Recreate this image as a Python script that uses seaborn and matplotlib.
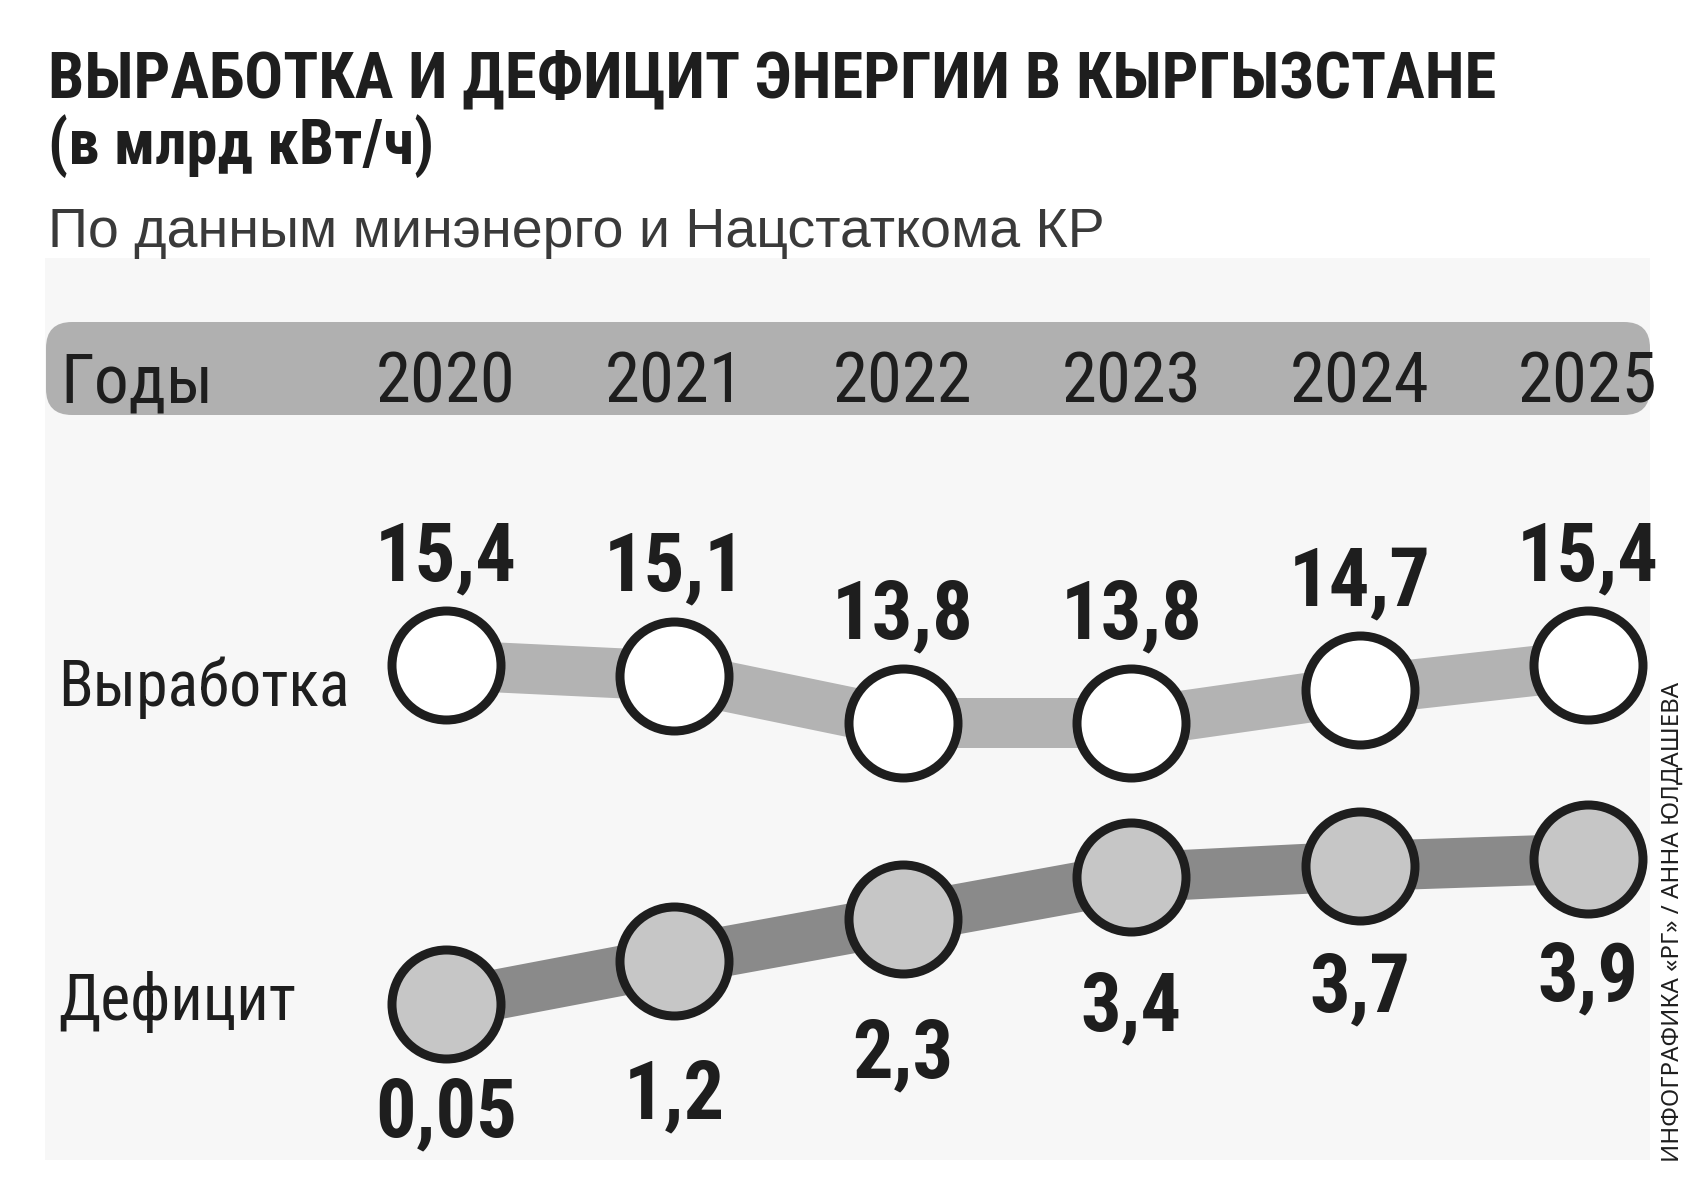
"""Energy production and deficit in Kyrgyzstan, 2020-2025."""

import matplotlib

matplotlib.use("Agg")
import matplotlib.pyplot as plt
from matplotlib import font_manager
from matplotlib.patches import FancyBboxPatch, Rectangle
from matplotlib.transforms import blended_transform_factory
import seaborn as sns

YEARS = ["2020", "2021", "2022", "2023", "2024", "2025"]
PRODUCTION = [15.4, 15.1, 13.8, 13.8, 14.7, 15.4]
DEFICIT = [0.05, 1.2, 2.3, 3.4, 3.7, 3.9]

TITLE = "ВЫРАБОТКА И ДЕФИЦИТ ЭНЕРГИИ В КЫРГЫЗСТАНЕ"
UNITS = "(в млрд кВт/ч)"
SOURCE = "По данным минэнерго и Нацстаткома КР"
CREDIT = "ИНФОГРАФИКА «РГ» / АННА ЮЛДАШЕВА"

W, H, DPI = 1686, 1183, 100
INK = "#1e1e1e"
PX = 72 / DPI  # points per pixel

# hand-placed drop of the deficit labels below their circles (pixels)
DEFICIT_LABEL_DROP = [132, 158, 158, 153, 145, 142]


def _pick_font(candidates: list[str]) -> str:
    for name in candidates:
        try:
            font_manager.findfont(
                font_manager.FontProperties(family=name), fallback_to_default=False
            )
            return name
        except ValueError:
            continue
    return "DejaVu Sans"


def _px_axes(fig, left, top, right, bottom):
    return fig.add_axes([left / W, 1 - bottom / H, (right - left) / W, (bottom - top) / H])


def _fmt(value: float) -> str:
    return f"{value:g}".replace(".", ",")


sns.set_theme(style="white")
NARROW = _pick_font(["Roboto Condensed", "Liberation Sans Narrow", "DejaVu Sans Condensed"])
PLAIN = _pick_font(["Liberation Sans", "DejaVu Sans"])
SMALL = _pick_font(["Noto Sans", "Open Sans", "DejaVu Sans"])
plt.rcParams["font.family"] = [NARROW, "DejaVu Sans"]

fig = plt.figure(figsize=(W / DPI, H / DPI), dpi=DPI, facecolor="white")

# background layer in pixel coordinates
bg = fig.add_axes([0, 0, 1, 1], zorder=0)
bg.set_xlim(0, W)
bg.set_ylim(H, 0)
bg.axis("off")
bg.add_patch(Rectangle((45, 258), 1605, 902, color="#f7f7f7", lw=0))
bg.add_patch(
    FancyBboxPatch(
        (46, 322), 1604, 93,
        boxstyle="round,pad=0,rounding_size=26",
        color="#b0b0b0", lw=0,
    )
)

bg.text(48, 97, TITLE, fontsize=46.5, fontweight="bold", color=INK, va="baseline")
bg.text(48, 164, UNITS, fontsize=45, fontweight="bold", color=INK, va="baseline")
bg.text(48, 247, SOURCE, fontsize=40, family=PLAIN, color="#3a3a3a", va="baseline")
bg.text(60, 402, "Годы", fontsize=50, color=INK, va="baseline")
bg.text(58, 706, "Выработка", fontsize=46, color=INK, va="baseline")
bg.text(58, 1020, "Дефицит", fontsize=46, color=INK, va="baseline")
bg.text(1673, 1162, CREDIT, fontsize=17.3, family=SMALL, color=INK,
        rotation=90, ha="center", va="bottom")

# series axes: x index 0 sits at 446 px, index 5 at 1588 px
x = list(range(len(YEARS)))
ax_prod = _px_axes(fig, 331.8, 570.75, 1702.2, 788.25)
ax_prod.set_xlim(-0.5, 5.5)
ax_prod.set_ylim(12, 18)
ax_def = _px_axes(fig, 331.8, 798.1, 1702.2, 1062.7)
ax_def.set_xlim(-0.5, 5.5)
ax_def.set_ylim(-1.5, 5.5)
for ax in (ax_prod, ax_def):
    ax.patch.set_alpha(0)
    ax.axis("off")

year_tf = blended_transform_factory(ax_prod.transData, bg.transData)
for i, year in enumerate(YEARS):
    bg.text(i, 402, year, transform=year_tf, fontsize=51, color=INK,
            ha="center", va="baseline")

series = [
    (ax_prod, PRODUCTION, "#b3b3b3", "white", [-85] * len(PRODUCTION)),
    (ax_def, DEFICIT, "#8a8a8a", "#c6c6c6", DEFICIT_LABEL_DROP),
]
for ax, values, line_color, fill, drops in series:
    sns.lineplot(x=x, y=values, ax=ax, color=line_color, linewidth=50 * PX,
                 solid_capstyle="butt", clip_on=False, zorder=2)
    sns.scatterplot(x=x, y=values, ax=ax, s=(109 * PX) ** 2, color=fill,
                    edgecolor=INK, linewidth=9 * PX, clip_on=False, zorder=3)
    for i, (value, drop) in enumerate(zip(values, drops)):
        ax.annotate(_fmt(value), (i, value), xytext=(0, -drop * PX),
                    textcoords="offset points", ha="center", va="baseline",
                    fontsize=58, fontweight="bold", color=INK,
                    annotation_clip=False)

fig.savefig("out.png", dpi=DPI, facecolor="white")
